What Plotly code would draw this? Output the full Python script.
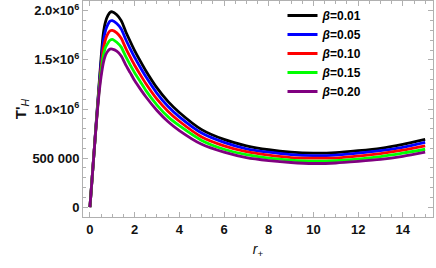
import plotly.graph_objects as go

# horizon radius values
r_plus = [0, 0.1, 0.2, 0.3, 0.4, 0.5, 0.6, 0.7, 0.8, 0.9, 1.0, 1.2, 1.4, 1.6, 1.8, 2.0,
          2.25, 2.5, 3.0, 3.5, 4, 5, 6, 7, 8, 9, 10, 11, 12, 13, 14, 15]

# T'_H in units of 1e6
t_b001 = [0, 0.30, 0.61, 0.92, 1.22, 1.52, 1.77, 1.89, 1.95, 1.985, 1.99, 1.96, 1.90, 1.79, 1.69, 1.595,
          1.49, 1.39, 1.215, 1.075, 0.965, 0.79, 0.69, 0.625, 0.585, 0.56, 0.55, 0.555, 0.575, 0.60, 0.64, 0.69]
t_b005 = [0, 0.30, 0.61, 0.91, 1.20, 1.47, 1.69, 1.80, 1.86, 1.895, 1.90, 1.87, 1.815, 1.71, 1.615, 1.525,
          1.425, 1.33, 1.16, 1.025, 0.92, 0.755, 0.66, 0.595, 0.56, 0.535, 0.525, 0.53, 0.55, 0.575, 0.61, 0.66]
t_b010 = [0, 0.30, 0.61, 0.90, 1.18, 1.42, 1.61, 1.71, 1.765, 1.795, 1.80, 1.775, 1.72, 1.62, 1.53, 1.445,
          1.35, 1.26, 1.10, 0.975, 0.875, 0.715, 0.625, 0.565, 0.53, 0.505, 0.50, 0.50, 0.52, 0.545, 0.58, 0.625]
t_b015 = [0, 0.30, 0.60, 0.90, 1.16, 1.38, 1.54, 1.63, 1.67, 1.70, 1.71, 1.68, 1.63, 1.535, 1.45, 1.37,
          1.28, 1.19, 1.04, 0.92, 0.83, 0.68, 0.59, 0.535, 0.50, 0.48, 0.47, 0.475, 0.49, 0.515, 0.55, 0.59]
t_b020 = [0, 0.30, 0.60, 0.89, 1.14, 1.33, 1.47, 1.55, 1.59, 1.61, 1.61, 1.59, 1.54, 1.45, 1.37, 1.29,
          1.205, 1.125, 0.985, 0.87, 0.78, 0.64, 0.56, 0.505, 0.475, 0.455, 0.445, 0.45, 0.466, 0.486, 0.518, 0.56]

labels = ['0.01', '0.05', '0.10', '0.15', '0.20']
colors = ['black', 'blue', 'red', '#00ff00', '#800080']
series = [t_b001, t_b005, t_b010, t_b015, t_b020]

y_ticks = [0, 500000, 1000000, 1500000, 2000000]
y_tick_text = ['0', '500 000', '1.0×10<sup>6</sup>', '1.5×10<sup>6</sup>', '2.0×10<sup>6</sup>']

fig = go.Figure()

for lab, col, vals in zip(labels, colors, series):
    fig.add_trace(go.Scatter(
        x=r_plus,
        y=[v * 1e6 for v in vals],
        mode='lines',
        name='<b><i>β</i>=' + lab + '</b>',
        line=dict(color=col, width=2.8, shape='spline', smoothing=0.7)
    ))

axis_common = dict(
    showline=True, linecolor='#b0b0b0', linewidth=1, mirror='ticks',
    ticks='inside', ticklen=5, tickcolor='#b0b0b0',
    showgrid=False, zeroline=False, automargin=False,
    tickfont=dict(family='Liberation Sans', size=13, color='#111111', weight='bold'),
)

fig.update_layout(
    width=436, height=268,
    margin=dict(l=83, r=3, t=1, b=51),
    plot_bgcolor='white', paper_bgcolor='white',
    showlegend=True,
    legend=dict(
        x=0.57, y=1.0, xanchor='left', yanchor='top',
        bgcolor='rgba(0,0,0,0)',
        font=dict(family='Liberation Sans', size=12, color='black'),
        tracegroupgap=0, itemwidth=30,
    ),
    xaxis=dict(
        range=[-0.31, 15.35], tickvals=[0, 2, 4, 6, 8, 10, 12, 14],
        minor=dict(ticks='inside', ticklen=3, dtick=0.5, tick0=0, tickcolor='#b0b0b0'),
        title=dict(text='<i>r</i><sub>+</sub>', standoff=8,
                   font=dict(family='Liberation Sans', size=14, color='#111111')),
        **axis_common
    ),
    yaxis=dict(
        range=[-100000, 2100000], tickvals=y_ticks, ticktext=y_tick_text,
        minor=dict(ticks='inside', ticklen=3, dtick=100000, tick0=0, tickcolor='#b0b0b0'),
        title=dict(text="<b>T'</b><sub><i>H</i></sub>", standoff=2,
                   font=dict(family='Liberation Sans', size=15, color='#111111')),
        **axis_common
    ),
)

# drop the default page margin so the figure sits at the window corner
fig.write_html("out.html", config={'displayModeBar': False},
               post_script="document.body.style.margin='0';")
